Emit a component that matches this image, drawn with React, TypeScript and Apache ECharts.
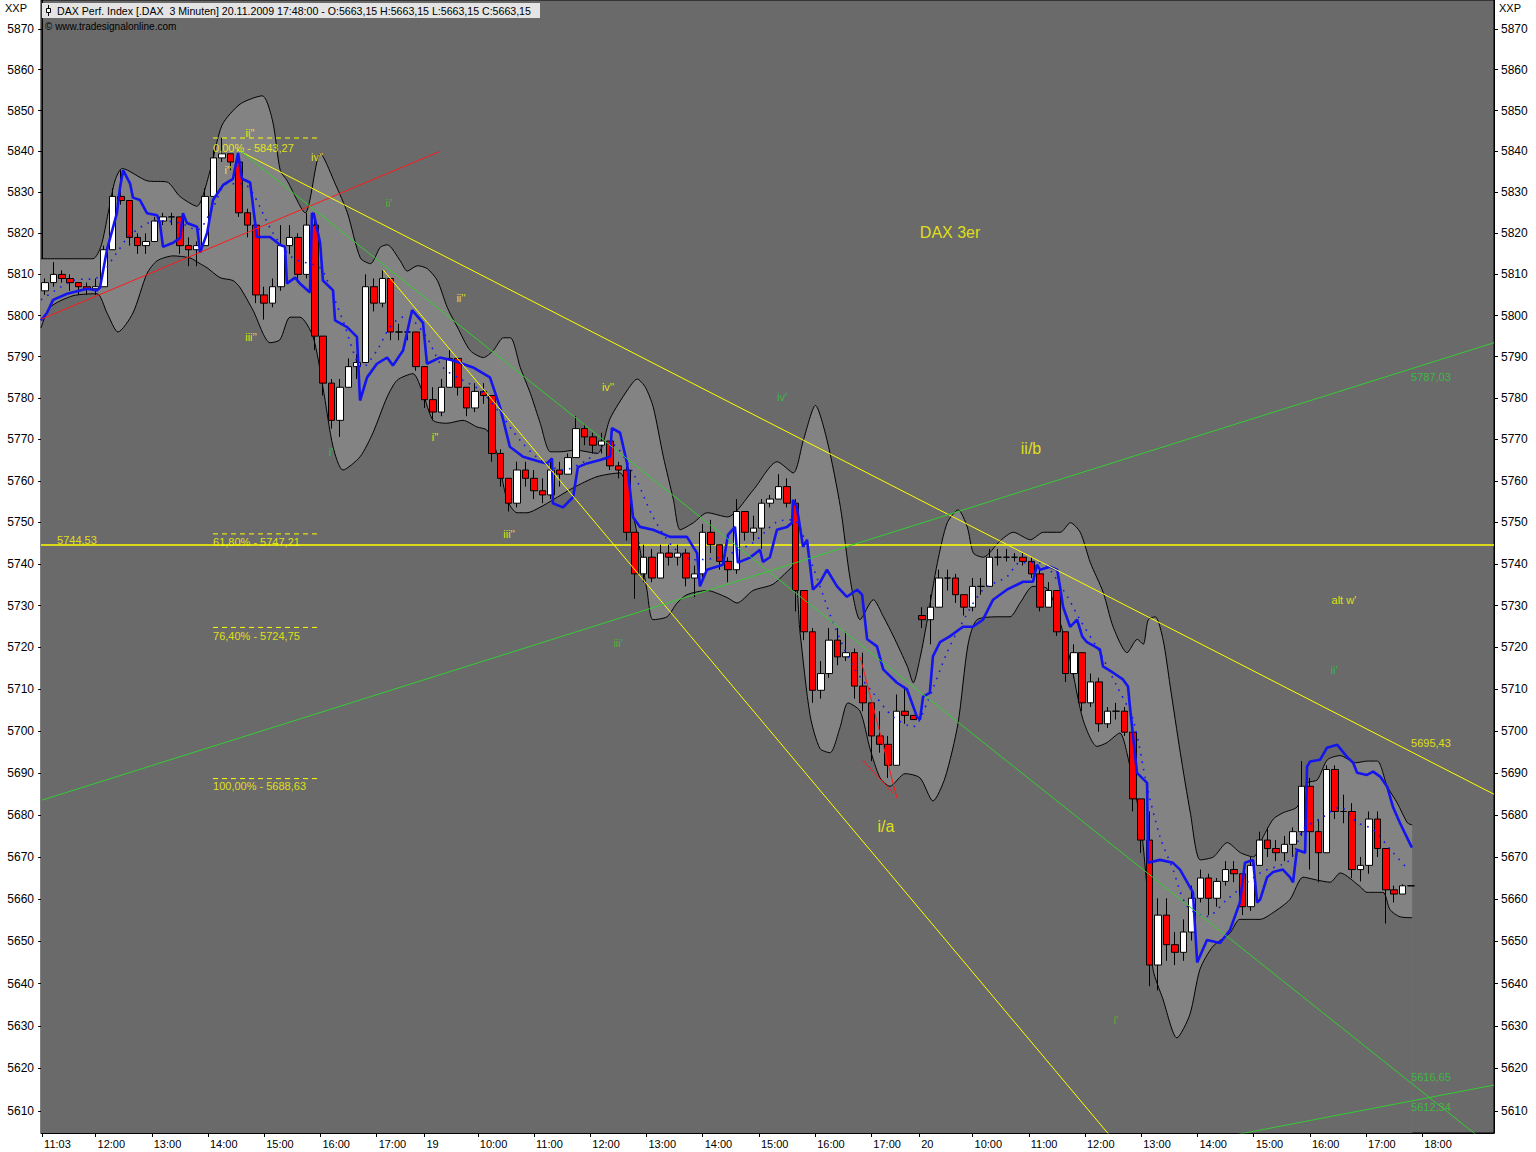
import React, { useEffect, useRef } from 'react';
import * as echarts from 'echarts';

// ---------- axes ----------
const tickIdx = [0, 19, 39, 59, 79, 99, 119, 136, 155, 175, 195, 215, 235, 255, 275, 295, 312, 331, 351, 371, 391, 411, 431, 451, 471, 491];
const tickLbl = ['11:03', '12:00', '13:00', '14:00', '15:00', '16:00', '17:00', '19', '10:00', '11:00', '12:00', '13:00', '14:00', '15:00', '16:00', '17:00', '20', '10:00', '11:00', '12:00', '13:00', '14:00', '15:00', '16:00', '17:00', '18:00'];
const priceTicks = [5610, 5620, 5630, 5640, 5650, 5660, 5670, 5680, 5690, 5700, 5710, 5720, 5730, 5740, 5750, 5760, 5770, 5780, 5790, 5800, 5810, 5820, 5830, 5840, 5850, 5860, 5870];

// ---------- candles (9-minute groups, open = previous close) ----------
const firstOpen = 5806;
const closeP = [
  5808, 5810, 5809, 5808, 5807, 5806.5, 5807, 5816, 5829, 5828,
  5819, 5817, 5818, 5823, 5824, 5824, 5817, 5816, 5817, 5829,
  5838.4, 5839.4, 5837.4, 5825, 5822, 5805, 5803, 5807, 5817, 5819,
  5810, 5822, 5795, 5783.6, 5774.6, 5782.6, 5787.6, 5788.6, 5807, 5803,
  5809, 5796, 5796, 5796, 5787.6, 5779.6, 5776.6, 5782.6, 5789.6, 5782.6,
  5777.6, 5781.6, 5780.6, 5766.6, 5760.6, 5754.6, 5762.6, 5760.6, 5757.6, 5756.6,
  5762.6, 5761.6, 5765.6, 5772.6, 5770.6, 5768.6, 5769.6, 5763.6, 5762.6, 5747.6,
  5737.6, 5741.6, 5736.6, 5742.6, 5741.6, 5742.6, 5736.6, 5737.6, 5747.6, 5744.6,
  5740.6, 5738.6, 5752.6, 5747.6, 5748.6, 5754.6, 5755.6, 5758.6, 5754.6, 5733.6,
  5723.7, 5709.7, 5713.7, 5721.7, 5717.7, 5718.7, 5710.7, 5706.7, 5698.8, 5696.8,
  5691.8, 5704.7, 5703.7, 5702.7, 5726.6, 5729.6, 5736.6, 5736.6, 5732.6, 5729.6,
  5734.6, 5734.6, 5741.6, 5741.6, 5741.6, 5741.6, 5740.6, 5737.6, 5729.6, 5733.6,
  5723.7, 5713.7, 5718.7, 5706.7, 5711.7, 5701.7, 5704.7, 5704.7, 5699.7, 5683.8,
  5674, 5644.4, 5656.2, 5649.2, 5647.4, 5652.2, 5660.2, 5665, 5660.2, 5664.2,
  5667, 5666, 5658.2, 5668, 5674, 5672, 5671, 5673, 5676, 5686.8,
  5676, 5671, 5690.8, 5680.8, 5680.8, 5667, 5668, 5679, 5672, 5662.2,
  5661.2, 5663.15, 5663.15,
];
const highP = [
  5809, 5813, 5811, 5810, 5808, 5808, 5809, 5817, 5831, 5835.4,
  5828, 5820, 5820, 5824, 5825, 5825, 5824, 5819, 5818, 5831,
  5840.4, 5843.27, 5839.4, 5837.4, 5826, 5822, 5807, 5809, 5822, 5822,
  5820, 5825, 5825, 5795, 5784.6, 5784.6, 5789.6, 5790.6, 5810, 5809,
  5811, 5809, 5798, 5797, 5796, 5787.6, 5782.6, 5784.6, 5791.6, 5789.6,
  5782.6, 5783.6, 5783.6, 5780.6, 5767.6, 5760.6, 5764.6, 5764.6, 5762.6, 5760.6,
  5764.6, 5764.6, 5766.6, 5775.6, 5773.6, 5771.6, 5771.6, 5769.6, 5764.6, 5763.6,
  5747.6, 5744.6, 5743.6, 5744.6, 5744.6, 5744.6, 5743.6, 5739.6, 5749.6, 5750.6,
  5744.6, 5741.6, 5755.6, 5752.6, 5751.6, 5755.6, 5756.6, 5761.6, 5760.6, 5755.6,
  5733.6, 5724.6, 5716.7, 5724.6, 5724.6, 5723.7, 5719.7, 5718.7, 5706.7, 5704.7,
  5698.8, 5708.7, 5710.7, 5703.7, 5729.6, 5732.6, 5738.6, 5738.6, 5737.6, 5732.6,
  5736.6, 5736.6, 5743.6, 5743.6, 5743.6, 5742.6, 5742.6, 5741.6, 5738.6, 5735.6,
  5733.6, 5723.7, 5720.7, 5718.7, 5713.7, 5712.7, 5705.7, 5706.7, 5705.7, 5699.7,
  5681.8, 5680.8, 5660.2, 5660.2, 5652.2, 5655.2, 5663.2, 5667, 5666, 5665,
  5669, 5669, 5666, 5670, 5676, 5677, 5674, 5675, 5677, 5692.8,
  5688.8, 5679, 5691.8, 5691.8, 5684.8, 5682.8, 5670, 5680.8, 5680.8, 5670,
  5663.2, 5663.5, 5663.15,
];
const lowP = [
  5805, 5807, 5808, 5806, 5805, 5805, 5805, 5807, 5816, 5827,
  5817, 5815, 5815, 5818, 5822, 5822, 5815, 5812, 5812, 5817,
  5829, 5837.4, 5835.4, 5824, 5819, 5803, 5799, 5802, 5806, 5815,
  5808, 5809, 5791.6, 5780.6, 5772.6, 5770.6, 5782.6, 5784.6, 5790.6, 5801,
  5802, 5794, 5794, 5794, 5786.6, 5777.6, 5774.6, 5775.6, 5782.6, 5780.6,
  5775.6, 5776.6, 5778.6, 5764.6, 5758.6, 5752.6, 5753.6, 5758.6, 5755.6, 5754.6,
  5755.6, 5758.6, 5761.6, 5765.6, 5768.6, 5766.6, 5766.6, 5762.6, 5760.6, 5745.6,
  5731.6, 5735.6, 5735.6, 5736.6, 5739.6, 5739.6, 5734.6, 5732, 5736.6, 5742.6,
  5738.6, 5735.6, 5737.6, 5745.6, 5745.6, 5743.6, 5753.6, 5755.6, 5753.6, 5728.6,
  5721.7, 5706.7, 5707.7, 5712.7, 5715.7, 5716.7, 5707.7, 5704.7, 5692.8, 5694.8,
  5688.8, 5693.8, 5701.7, 5702.7, 5724.6, 5720.7, 5729.6, 5733.6, 5730.6, 5727.6,
  5728.6, 5732.6, 5734.6, 5739.6, 5740.6, 5740.6, 5739.6, 5736.6, 5728.6, 5729.6,
  5722.7, 5711.7, 5712.7, 5704.7, 5705.7, 5699.8, 5700.7, 5702.7, 5698.8, 5680.8,
  5671, 5639.4, 5638.4, 5645.4, 5644.4, 5645.4, 5650.2, 5659.2, 5656.2, 5658.2,
  5663.2, 5664, 5656.2, 5657.2, 5668, 5670, 5669, 5669, 5670, 5675,
  5667, 5664, 5671, 5679, 5678, 5665, 5664.2, 5666, 5670, 5654.2,
  5659.2, 5661.2, 5663.15,
];
const openOverride = [[104, 5727.6]];

// ---------- indicator lines [bar index, price] ----------
const upperBand = [
  [-0.4, 5813.8], [18, 5813.8], [21, 5817], [23.5, 5825], [26, 5833], [28.5, 5835.8], [37.4, 5832.8], [44.5, 5832.5],
  [49, 5829], [55, 5826.6], [59.8, 5835.4], [64, 5846.4], [70.5, 5851.6], [78.3, 5853.6], [82, 5847.4], [84.7, 5835.4],
  [87.2, 5832.8], [93.6, 5825], [99, 5839.5], [104.3, 5832], [108.6, 5825], [113.2, 5814], [116.8, 5812.6], [120.3, 5816.6],
  [122.8, 5817.2], [127.4, 5813.3], [129.9, 5810.8], [133.5, 5812.1], [137, 5811.4], [140.6, 5808.5], [144.1, 5802],
  [147.7, 5797.2], [152.3, 5791.5], [157, 5789.8], [160.5, 5791.5], [164.1, 5794.6], [166.6, 5794.6], [170.1, 5787.4],
  [173.7, 5781.1], [177.2, 5773.9], [180.8, 5767], [184.3, 5767], [189.7, 5767.4], [197.5, 5766.6], [202.1, 5775.1],
  [208.2, 5781.9], [211.7, 5784.6], [214.6, 5782.6], [217.4, 5777.8], [221, 5765.8], [224.6, 5755.4], [227, 5748.2],
  [231.7, 5749.9], [236.6, 5752.3], [243.8, 5751.3], [253, 5757.8], [261.5, 5764.6], [267.2, 5761.9], [270.8, 5769.8],
  [275.1, 5778.2], [279.3, 5769.6], [284, 5753.6], [287.5, 5736.2], [291, 5726.6], [295.7, 5731.4], [299.3, 5727.3],
  [302.8, 5722.7], [307.8, 5715.4], [309.9, 5711.5], [312.4, 5717.7], [314.9, 5726.6], [318.5, 5740.3], [322, 5749.9],
  [325.9, 5753], [329.1, 5748.9], [331.3, 5742.6], [334.8, 5741.6], [340.9, 5745.6], [345.5, 5747.6], [351.6, 5745.8],
  [356.2, 5747.6], [362.2, 5747.6], [365.8, 5749.9], [369.3, 5747.6], [372.9, 5740.3], [377.5, 5733.1], [381, 5724.9],
  [386, 5718.7], [389.6, 5721.9], [391.7, 5720.7], [393.5, 5726.6], [396, 5727.3], [398.8, 5721.7], [401.3, 5710.7],
  [404.9, 5694.8], [408.5, 5680.4], [412, 5669.3], [416.7, 5670], [421.6, 5673.4], [426.3, 5671], [430.9, 5670],
  [434.4, 5674.8], [438, 5679], [441.5, 5680.5], [446.5, 5681.9], [450.1, 5687.6], [453.6, 5688.3], [457.2, 5693.1],
  [461.8, 5694.1], [467.2, 5692.4], [471.4, 5692.8], [475, 5692.8], [478.5, 5686.8], [482.1, 5682.8], [485.7, 5678.1],
  [487.4, 5677.6],
];
const lowerBand = [
  [-0.4, 5797], [2.8, 5802], [11, 5804.8], [19.5, 5805.3], [23.1, 5800.6], [27, 5796], [32.3, 5800.6], [37.3, 5810.2],
  [40.9, 5813.3], [46.6, 5814.5], [52.6, 5814], [56.2, 5812.6], [58.7, 5811.6], [63.3, 5809.2], [67.9, 5808.5],
  [70.4, 5806.8], [75, 5801.3], [81.1, 5793.4], [84.6, 5794.1], [88.2, 5799.6], [91.7, 5799.6], [96.4, 5794.8],
  [99.9, 5782.6], [103.5, 5768.2], [107, 5762.6], [113.1, 5765.8], [117.7, 5771.6], [122.7, 5780.2], [126.3, 5784.3],
  [131.9, 5785.9], [135.5, 5781.1], [139.1, 5774.6], [144, 5773.9], [149.7, 5774.6], [154.7, 5773], [158.3, 5772.2],
  [161.8, 5766.6], [165.4, 5755.4], [169, 5752.3], [172.5, 5752.3], [177.1, 5753.6], [181.7, 5755.4], [188.9, 5758.3],
  [197.4, 5761], [205.6, 5761.9], [208.1, 5757.8], [211.6, 5747.5], [215.2, 5733.6], [217.3, 5726.6], [222.3, 5727.3],
  [225.9, 5730.6], [229.4, 5732.6], [236.5, 5733.6], [243.7, 5731.9], [247.2, 5730.6], [252.9, 5733.6], [260, 5735.1],
  [267.1, 5739.3], [269.6, 5723.7], [273.2, 5703.7], [276.7, 5695.8], [280.3, 5694.8], [283.8, 5700.7], [286.7, 5706.7],
  [291, 5704.7], [294.5, 5695.8], [298.1, 5688.8], [301.6, 5686.8], [307, 5689.8], [312.3, 5688.8], [316.9, 5683.3],
  [321.2, 5688.8], [325.8, 5701.7], [329.4, 5720.7], [332.6, 5726.6], [340.8, 5727.3], [344.3, 5727.3], [347.9, 5730.6],
  [352.5, 5734.6], [357.5, 5734.1], [361.1, 5728.3], [365.7, 5717.1], [370.3, 5702.7], [375.3, 5696.3], [378.8, 5697.2],
  [383.4, 5699.5], [385.9, 5694.8], [390.6, 5679], [393, 5663], [395.2, 5643.4], [398.7, 5636.4], [403.7, 5627.2],
  [408.3, 5632.7], [411.9, 5643.4], [416.5, 5648.8], [422.6, 5652], [426.1, 5655.2], [433.3, 5655.2], [437.9, 5656.8],
  [443.9, 5659.9], [448.6, 5665.2], [453.6, 5664.5], [458.2, 5664], [461.8, 5666.2], [468.8, 5663], [471.3, 5661.6],
  [477, 5661.6], [479.5, 5657.5], [483.1, 5655.8], [487.4, 5655.6],
];
const blueLine = [
  [-0.4, 5798.8], [1.7, 5800.6], [3.9, 5803.8], [8.9, 5805.3], [16, 5806.5], [19.5, 5806.1], [20.6, 5806.8], [23.1, 5816.1],
  [26.6, 5824.9], [27.7, 5831.1], [28.8, 5835.4], [31.3, 5832.1], [32.3, 5828.7], [34.8, 5828.1], [37.3, 5824.9],
  [40.9, 5824.4], [41.9, 5822.5], [43, 5816.7], [46.6, 5817.7], [49.1, 5818.9], [50.1, 5824.9], [51.5, 5822.5],
  [55.1, 5821.6], [56.2, 5815.3], [58.7, 5820.1], [60.8, 5828.1], [64.4, 5831.8], [67.9, 5833.3], [69.7, 5839.6],
  [71.1, 5833.3], [74, 5832.4], [76.4, 5819.1], [81.1, 5819.1], [84.6, 5817.2], [86.4, 5816.7], [87.1, 5807.8],
  [90, 5809.2], [91.7, 5807.8], [95.3, 5805.6], [96, 5824.9], [96.7, 5824.6], [98.9, 5817.7], [99.9, 5808.5],
  [103.5, 5806.1], [104.2, 5798.8], [108.5, 5797.2], [112, 5794.8], [113.1, 5779.4], [115.6, 5785], [119.1, 5788.3],
  [122.7, 5789.8], [124.8, 5787.9], [128.4, 5791.5], [131.6, 5801.3], [135.5, 5798.2], [136.9, 5788.3], [141.5, 5789.8],
  [146.2, 5789.1], [153.3, 5787.4], [159.3, 5785], [162.9, 5777.8], [166.4, 5768.2], [171.1, 5765.8], [177.1, 5764.6],
  [179.6, 5764.2], [181.4, 5765.4], [181.7, 5754.6], [185.3, 5753.6], [188.9, 5756.1], [190.6, 5763.3], [193.8, 5764.2],
  [198.5, 5765], [202, 5765.8], [202.7, 5772.7], [205.6, 5771.6], [208.1, 5764.2], [210.2, 5751.3], [212.7, 5748.9],
  [217.3, 5748.2], [223.4, 5746.5], [229.4, 5746.5], [233, 5742.6], [234, 5734.6], [236.5, 5738.6], [242.2, 5739.8],
  [244, 5747], [246.5, 5748.9], [247.5, 5740.3], [251.8, 5741.5], [255.4, 5743.4], [256.4, 5740.5], [258.9, 5741.6],
  [261.4, 5748.2], [265, 5748.9], [266.8, 5749.9], [267.1, 5755.4], [268.5, 5753.7], [270.7, 5744.1], [272.1, 5745.8],
  [274.2, 5733.8], [276.7, 5735.5], [279.2, 5738.6], [282.8, 5734.6], [286.3, 5732.1], [289.9, 5733.8], [291.7, 5732.6],
  [293.5, 5721.9], [297, 5720.2], [299.2, 5714.7], [304.1, 5711.5], [307.7, 5709.9], [311.2, 5703.4], [312.3, 5702.7],
  [313.4, 5708.2], [315.8, 5709.1], [316.9, 5717.8], [319.4, 5721.2], [322.9, 5722.6], [327.6, 5724.9], [331.1, 5724.9],
  [334.7, 5726.6], [338.3, 5731.4], [343.2, 5733.8], [349, 5735.7], [352.5, 5735.7], [353.9, 5739.8], [355, 5738.6],
  [358.6, 5739.3], [361.1, 5738.6], [362.1, 5734.6], [363.2, 5729.7], [365.7, 5724.9], [368.2, 5726.6], [370, 5722.6],
  [371.7, 5721.2], [376.3, 5719.5], [377.4, 5715.4], [381, 5713.9], [384.5, 5712.3], [386.3, 5710.6], [387, 5705.7],
  [389.5, 5690], [393.1, 5687.6], [393.4, 5668.6], [397.7, 5669.3], [402.3, 5668.6], [404.8, 5667], [409.4, 5661.6],
  [410.9, 5645], [414.4, 5650.3], [419, 5649.6], [422.6, 5652.7], [426.1, 5659.2], [427.9, 5668.6], [430.8, 5669.3],
  [432.2, 5659.2], [433.3, 5659.9], [435.8, 5665.2], [437.9, 5666.4], [441.4, 5667], [443.9, 5665.2], [445, 5664],
  [446.4, 5671.7], [449.3, 5671], [450, 5691.5], [451.1, 5692.7], [454.6, 5693.1], [457.1, 5696], [460.7, 5696.7],
  [464.2, 5693.8], [466.4, 5692.4], [467.8, 5690], [471.3, 5689.5], [473.5, 5690.3], [476, 5689.1], [478.5, 5686.7],
  [480.6, 5681.8], [483.1, 5678], [487.3, 5672.2],
];
const dottedLine = [
  [-0.4, 5803.8], [11, 5808.5], [19.5, 5809.2], [26.6, 5815.3], [31.3, 5819.6], [40.9, 5823.1], [49.1, 5822.5], [55.1, 5820.8],
  [60.8, 5826.3], [65.8, 5832.1], [71.5, 5832.1], [75, 5829.7], [82.1, 5820.1], [89.2, 5814], [98.9, 5811.6], [102.4, 5806.8],
  [107, 5798.8], [114.1, 5787.4], [119.1, 5791.5], [123.8, 5797.2], [128.4, 5799.6], [131.9, 5798.8], [136.9, 5794.6],
  [142.6, 5787.4], [149.7, 5784.3], [155.8, 5781.9], [162.9, 5776.3], [170, 5769.8], [177.1, 5765.1], [185.3, 5762.6],
  [193.8, 5765], [202, 5769.1], [210.2, 5761.9], [217.3, 5751.3], [224.4, 5744.1], [231.5, 5741], [241.1, 5741.6],
  [252.9, 5745.1], [261.4, 5750.1], [267.1, 5750.6], [274.2, 5739.3], [281.4, 5725.9], [288.5, 5715.4], [295.6, 5709.1],
  [302.7, 5703.4], [309.8, 5701], [314.8, 5706.7], [321.9, 5718.7], [326.5, 5724.9], [334.7, 5733.8], [343.2, 5736.9],
  [347.9, 5740.3], [355, 5740.3], [363.2, 5733.8], [369.2, 5726.6], [376.3, 5718.7], [382.4, 5710.6], [388.1, 5702.7],
  [393.1, 5686.7], [397.7, 5674.8], [402.3, 5667], [407.3, 5658.3], [414.4, 5655.9], [421.5, 5659.9], [433.3, 5666.2],
  [443.9, 5669.3], [448.6, 5676.5], [454.6, 5679], [461.8, 5681.8], [467.8, 5678.2], [473.5, 5676.5], [480.6, 5671],
  [486, 5667],
];

// ---------- drawn trend lines [bar index, price] ----------
const trendRed = [[0, 5799.2], [141.5, 5840]];
const trendYellow1 = [[69.3, 5840.4], [516.5, 5684.9]];
const trendYellow2 = [[121.3, 5811.1], [387, 5598.6]];
const trendGreen1 = [[69.3, 5840.8], [516.5, 5601.1]];
const trendGreen2 = [[0, 5683.5], [516.5, 5793.4]];
const trendGreen3 = [[411.9, 5602.8], [516.5, 5616.1]];
const redSmallA = [[291, 5717.7], [304.1, 5684]];
const redSmallB = [[292, 5693], [302.7, 5685.2]];
const hLevel = 5744.53;
const fibLevels = [5843.27, 5747.21, 5724.75, 5688.63];
const fibSpan = [60.8, 98.5];

// ---------- annotations [text, bar index, price] ----------
const yellowNotes = [
  ["ii''", 74.0, 5844.5], ["i''", 66.1, 5835.4], ["iv''", 97.8, 5838.6], ["iii''", 74.3, 5794.8], ["ii''", 149.0, 5804.3],
  ["i''", 139.8, 5770.6], ["iii''", 166.1, 5747.2], ["iv''", 201.3, 5782.7], ["alt w'", 463.1, 5731.3],
];
const greenNotes = [
  ["ii'", 123.4, 5827.4], ["i'", 102.8, 5767.0], ["iv'", 263.2, 5780.3], ["iii'", 204.9, 5721.0], ["ii'", 459.6, 5714.6], ["i'", 382.0, 5631.4],
];
const bigNotes = [["DAX 3er", 323.0, 5820.1], ["ii/b", 351.8, 5767.7], ["i/a", 300.2, 5677.3]];
const yellowTags = [
  ['0,00% - 5843,27', 60.8, 5840.8], ['61,80% - 5747,21', 60.8, 5745.3], ['76,40% - 5724,75', 60.8, 5722.7],
  ['100,00% - 5688,63', 60.8, 5686.9], ['5744,53', 5.3, 5745.7], ['5695,43', 487.0, 5697.1],
];
const greenTags = [['5787,03', 487.0, 5785.1], ['5616,65', 487.0, 5618.0], ['5612,34', 487.0, 5611.0]];

const FONT = '"Liberation Sans", Arial, sans-serif';
const BG = '#6a6a6a';
const BAND = '#838383';
const YEL = '#ffff00';
const GRN = '#33cc33';
const BLUE = '#1414f0';

function buildOption() {
  const lblMap: Record<number, string> = {};
  tickIdx.forEach((t, i) => { lblMap[t] = tickLbl[i]; });

  const candleData = closeP.map((c, k) => {
    let o = k === 0 ? firstOpen : closeP[k - 1];
    const ov = openOverride.find((d) => d[0] === k);
    if (ov) o = ov[1];
    return [3 * k + 1, o, c, Math.min(lowP[k], o, c), Math.max(highP[k], o, c)];
  });

  const line = (data: number[][], color: string, width: number, z: number, extra: any = {}) => ({
    type: 'line', data, symbol: 'none', showSymbol: false, silent: true, z,
    lineStyle: { color, width }, ...extra,
  });

  const labels = (items: any[], color: string, size: number, align: string, z: number) => ({
    type: 'scatter', symbolSize: 1, silent: true, z,
    itemStyle: { color: 'rgba(0,0,0,0)' },
    data: items.map((d) => ({ value: [d[1], d[2]], name: d[0] })),
    label: {
      show: true, position: 'inside', align, verticalAlign: 'middle', formatter: '{b}',
      color, fontSize: size, fontFamily: FONT,
    },
  });

  const yAxis = (position: string) => ({
    type: 'log', logBase: 10, min: 5604.84, max: 5877.13, position,
    axisLine: { show: true, lineStyle: { color: '#000', width: 1 } },
    axisTick: { show: true, length: 4, lineStyle: { color: '#000' }, customValues: priceTicks },
    axisLabel: {
      show: true, color: '#000', fontSize: 12, fontFamily: FONT, margin: 7,
      customValues: priceTicks, formatter: (v: number) => String(Math.round(v)),
    },
    splitLine: { show: false }, minorTick: { show: false }, minorSplitLine: { show: false },
  });

  const series: any[] = [
    line(upperBand, '#000', 1, 1, { smooth: 0.25, areaStyle: { color: BAND, opacity: 1, origin: 'start' } }),
    line(lowerBand, '#000', 1, 2, { smooth: 0.25, areaStyle: { color: BG, opacity: 1, origin: 'start' } }),
    line([[-0.4, hLevel], [516.5, hLevel]], YEL, 1.6, 3),
    {
      type: 'candlestick', z: 4, silent: true, barWidth: 7,
      data: candleData, encode: { x: 0, y: [1, 2, 3, 4] },
      itemStyle: { color: '#ffffff', color0: '#ff0000', borderColor: '#000', borderColor0: '#000', borderWidth: 1 },
    },
    line(dottedLine, BLUE, 1.5, 5, { smooth: 0.3, lineStyle: { color: BLUE, width: 1.6, type: [1.6, 6] } }),
    line(blueLine, BLUE, 2.6, 6),
    line(trendRed, '#ff1a1a', 1, 7),
    line(trendYellow1, YEL, 1, 7),
    line(trendYellow2, YEL, 1, 7),
    line(trendGreen1, GRN, 1, 7),
    line(trendGreen2, GRN, 1, 7),
    line(trendGreen3, GRN, 1, 7),
    line(redSmallA, '#ff1a1a', 1, 7),
    line(redSmallB, '#ff1a1a', 1, 7),
    ...fibLevels.map((lv) => line([[fibSpan[0], lv], [fibSpan[1], lv]], YEL, 1, 7, { lineStyle: { color: YEL, width: 1, type: [5, 4] } })),
    labels(yellowNotes, YEL, 11, 'center', 8),
    labels(greenNotes, GRN, 11, 'center', 8),
    labels(bigNotes, YEL, 16, 'center', 8),
    labels(yellowTags, YEL, 11, 'left', 8),
    labels(greenTags, GRN, 11, 'left', 8),
  ];

  return {
    animation: false,
    textStyle: { fontFamily: FONT },
    grid: { left: 41, right: 42, top: 0, bottom: 19, show: true, backgroundColor: BG, borderColor: '#000', borderWidth: 1 },
    xAxis: {
      type: 'value', min: -0.4, max: 516.5,
      axisLine: { show: true, lineStyle: { color: '#000' } },
      axisTick: { show: true, length: 4, lineStyle: { color: '#000' }, customValues: tickIdx },
      axisLabel: {
        show: true, customValues: tickIdx, formatter: (v: number) => lblMap[Math.round(v)] || '',
        align: 'left', margin: 5, padding: [0, 0, 0, 2], color: '#000', fontSize: 11, fontFamily: FONT,
      },
      splitLine: { show: false },
    },
    yAxis: [yAxis('left'), yAxis('right')],
    series,
    graphic: [
      { type: 'rect', z: 100, shape: { x: 42, y: 3, width: 498, height: 15 }, style: { fill: '#e4e4e4' } },
      { type: 'line', z: 101, shape: { x1: 48.5, y1: 5, x2: 48.5, y2: 16 }, style: { stroke: '#000', lineWidth: 1 } },
      { type: 'rect', z: 102, shape: { x: 46.5, y: 8.5, width: 4, height: 4 }, style: { fill: '#fff', stroke: '#000', lineWidth: 1 } },
      {
        type: 'text', z: 101, x: 57, y: 10.5,
        style: { text: 'DAX Perf. Index [.DAX  3 Minuten] 20.11.2009 17:48:00 - O:5663,15 H:5663,15 L:5663,15 C:5663,15', fill: '#000', font: '10.6px ' + FONT, verticalAlign: 'middle', textVerticalAlign: 'middle' },
      },
      {
        type: 'text', z: 101, x: 45, y: 26.5,
        style: { text: '\u00a9 www.tradesignalonline.com', fill: '#000', font: '10px ' + FONT, verticalAlign: 'middle', textVerticalAlign: 'middle' },
      },
      { type: 'text', z: 101, x: 5, y: 8, style: { text: 'XXP', fill: '#000', font: '11px ' + FONT, verticalAlign: 'middle', textVerticalAlign: 'middle' } },
      { type: 'text', z: 101, x: 1499, y: 8, style: { text: 'XXP', fill: '#000', font: '11px ' + FONT, verticalAlign: 'middle', textVerticalAlign: 'middle' } },
    ],
  };
}

export default function App() {
  const ref = useRef<HTMLDivElement>(null);
  useEffect(() => {
    if (!ref.current) return;
    const chart = echarts.init(ref.current, null, { renderer: 'svg' });
    chart.setOption(buildOption() as any);
    return () => chart.dispose();
  }, []);
  return <div ref={ref} style={{ position: 'absolute', left: 0, top: 0, width: 1536, height: 1152, background: '#fff' }} />;
}
